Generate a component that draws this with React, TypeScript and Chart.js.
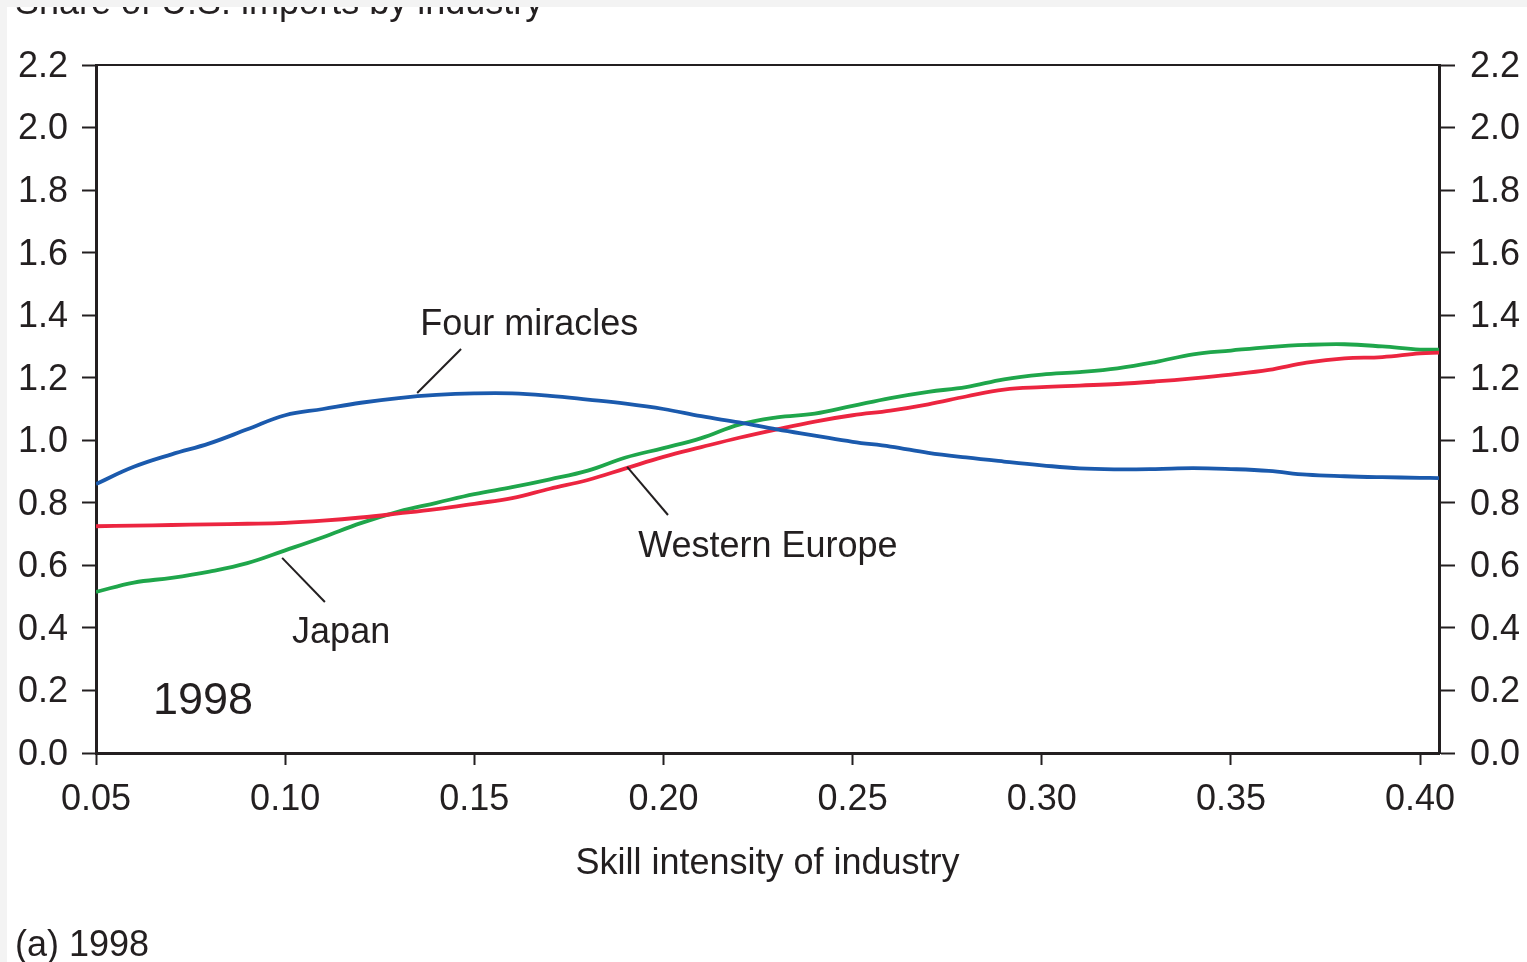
import React, { useEffect, useRef } from "react";
import { Chart, registerables } from "chart.js";

Chart.register(...registerables);

// ---- Data ----
const skill = [
  0.05, 0.06, 0.07, 0.08, 0.09, 0.1, 0.11, 0.12, 0.13, 0.14, 0.15, 0.16, 0.17,
  0.18, 0.19, 0.2, 0.21, 0.22, 0.23, 0.24, 0.25, 0.26, 0.27, 0.28, 0.29, 0.3,
  0.31, 0.32, 0.33, 0.34, 0.35, 0.36, 0.37, 0.38, 0.39, 0.4, 0.405,
];

const fourMiracles = [
  0.86, 0.915, 0.955, 0.99, 1.035, 1.08, 1.1, 1.12, 1.135, 1.145, 1.15, 1.15,
  1.142, 1.13, 1.117, 1.1, 1.077, 1.057, 1.035, 1.015, 0.995, 0.98, 0.96,
  0.945, 0.932, 0.92, 0.91, 0.907, 0.908, 0.911, 0.908, 0.902, 0.89, 0.885,
  0.882, 0.88, 0.879,
];

const westernEurope = [
  0.725, 0.727, 0.729, 0.731, 0.733, 0.736, 0.743, 0.753, 0.766, 0.78, 0.797,
  0.815, 0.845, 0.873, 0.91, 0.947, 0.978, 1.008, 1.035, 1.06, 1.08, 1.095,
  1.115, 1.14, 1.162, 1.17, 1.175, 1.18, 1.188, 1.198, 1.21, 1.225, 1.248,
  1.262, 1.266, 1.278, 1.28,
];

const japan = [
  0.515, 0.545, 0.56, 0.58, 0.607, 0.648, 0.69, 0.735, 0.772, 0.8, 0.828,
  0.85, 0.875, 0.903, 0.945, 0.975, 1.007, 1.05, 1.073, 1.085, 1.11, 1.135,
  1.155, 1.17, 1.195, 1.21, 1.218, 1.23, 1.25, 1.275, 1.287, 1.298, 1.305,
  1.307, 1.3, 1.29, 1.29,
];

const xTicks = [0.05, 0.1, 0.15, 0.2, 0.25, 0.3, 0.35, 0.4];
const yTicks = [0, 0.2, 0.4, 0.6, 0.8, 1.0, 1.2, 1.4, 1.6, 1.8, 2.0, 2.2];

const seriesNames = ["Four miracles", "Western Europe", "Japan"];
const seriesColors = ["#1b5aad", "#ec2540", "#1fa64b"];

const chartTitle = "Share of U.S. imports by industry";
const xTitle = "Skill intensity of industry";
const yearLabel = "1998";
const caption = "(a) 1998";

// Annotation labels in data units: text centre, then leader line from -> to
const annotations = [
  { text: "Four miracles", x: 0.1645, y: 1.375, lx1: 0.1465, ly1: 1.292, lx2: 0.1349, ly2: 1.151 },
  { text: "Western Europe", x: 0.2276, y: 0.665, lx1: 0.2012, ly1: 0.761, lx2: 0.1904, ly2: 0.915 },
  { text: "Japan", x: 0.1148, y: 0.39, lx1: 0.1105, ly1: 0.483, lx2: 0.0992, ly2: 0.624 },
];
const yearPos = { x: 0.0783, y: 0.165 };

const FONT = "'Liberation Sans', Arial, Helvetica, sans-serif";
const INK = "#231f20";
const W = 1527;
const H = 962;

export default function App() {
  const canvasRef = useRef<HTMLCanvasElement | null>(null);

  useEffect(() => {
    const canvas = canvasRef.current;
    if (!canvas) return;

    const bgPlugin = {
      id: "bg",
      beforeDraw(chart: any) {
        const ctx = chart.ctx;
        ctx.save();
        ctx.fillStyle = "#f3f3f3";
        ctx.fillRect(0, 0, chart.width, chart.height);
        ctx.fillStyle = "#ffffff";
        ctx.fillRect(7, 7, chart.width - 7, chart.height - 7);
        ctx.restore();
      },
    };

    const overlayPlugin = {
      id: "overlay",
      afterDraw(chart: any) {
        const ctx = chart.ctx;
        const { left, right, top } = chart.chartArea;
        const xs = chart.scales.x;
        const ys = chart.scales.y;
        ctx.save();
        // top frame line
        ctx.strokeStyle = INK;
        ctx.lineWidth = 2;
        ctx.beginPath();
        ctx.moveTo(left, top);
        ctx.lineTo(right, top);
        ctx.stroke();

        // clipped title (cut at the page edge)
        ctx.save();
        ctx.beginPath();
        ctx.rect(7, 7, chart.width - 7, chart.height - 7);
        ctx.clip();
        ctx.fillStyle = INK;
        ctx.font = `36px ${FONT}`;
        ctx.textAlign = "left";
        ctx.textBaseline = "alphabetic";
        ctx.fillText(chartTitle, 15, 14);
        ctx.restore();

        // annotations
        ctx.fillStyle = INK;
        ctx.strokeStyle = INK;
        ctx.lineWidth = 2;
        ctx.font = `36px ${FONT}`;
        ctx.textAlign = "center";
        ctx.textBaseline = "middle";
        annotations.forEach((a) => {
          ctx.fillText(a.text, xs.getPixelForValue(a.x), ys.getPixelForValue(a.y) + 2);
          ctx.beginPath();
          ctx.moveTo(xs.getPixelForValue(a.lx1), ys.getPixelForValue(a.ly1));
          ctx.lineTo(xs.getPixelForValue(a.lx2), ys.getPixelForValue(a.ly2));
          ctx.stroke();
        });

        ctx.font = `45px ${FONT}`;
        ctx.fillText(yearLabel, xs.getPixelForValue(yearPos.x), ys.getPixelForValue(yearPos.y));

        // caption
        ctx.font = `36px ${FONT}`;
        ctx.textAlign = "left";
        ctx.textBaseline = "alphabetic";
        ctx.fillText(caption, 15, 956);
        ctx.restore();
      },
    };

    const mk = (vals: number[]) => vals.map((v, i) => ({ x: skill[i], y: v }));
    const seriesData = [fourMiracles, westernEurope, japan];

    const chart = new Chart(canvas, {
      type: "line",
      data: {
        datasets: seriesNames.map((name, i) => ({
          label: name,
          data: mk(seriesData[i]),
          borderColor: seriesColors[i],
          backgroundColor: seriesColors[i],
          borderWidth: 3.8,
          pointRadius: 0,
          tension: 0.4,
          fill: false,
          yAxisID: "y",
          xAxisID: "x",
        })),
      },
      options: {
        responsive: false,
        animation: false,
        devicePixelRatio: 1,
        layout: { padding: { top: 65, left: 0, right: 0, bottom: 0 } },
        plugins: {
          legend: { display: false },
          title: { display: false },
          tooltip: { enabled: false },
        },
        scales: {
          x: {
            type: "linear",
            position: "bottom",
            min: 0.05,
            max: 0.405,
            afterBuildTicks: (s: any) => {
              s.ticks = xTicks.map((v) => ({ value: v }));
            },
            afterFit: (s: any) => {
              s.height = 209;
            },
            border: { display: true, color: INK, width: 3 },
            grid: {
              drawOnChartArea: false,
              drawTicks: true,
              tickLength: 12,
              tickWidth: 2,
              tickColor: INK,
            },
            ticks: {
              color: INK,
              padding: 13,
              maxRotation: 0,
              autoSkip: false,
              font: { family: FONT, size: 36 },
              callback: (v: any) => Number(v).toFixed(2),
            },
            title: {
              display: true,
              text: xTitle,
              color: INK,
              font: { family: FONT, size: 36 },
              padding: { top: 0, bottom: 76 },
            },
          },
          y: {
            type: "linear",
            position: "left",
            min: 0,
            max: 2.2,
            afterBuildTicks: (s: any) => {
              s.ticks = yTicks.map((v) => ({ value: v }));
            },
            afterFit: (s: any) => {
              s.width = 96;
            },
            border: { display: true, color: INK, width: 3 },
            grid: {
              drawOnChartArea: false,
              drawTicks: true,
              tickLength: 14,
              tickWidth: 2,
              tickColor: INK,
            },
            ticks: {
              color: INK,
              padding: 14,
              labelOffset: 2,
              autoSkip: false,
              font: { family: FONT, size: 36 },
              callback: (v: any) => Number(v).toFixed(1),
            },
          },
          y2: {
            type: "linear",
            position: "right",
            display: true,
            min: 0,
            max: 2.2,
            afterBuildTicks: (s: any) => {
              s.ticks = yTicks.map((v) => ({ value: v }));
            },
            afterFit: (s: any) => {
              s.width = 88;
            },
            border: { display: true, color: INK, width: 3 },
            grid: {
              drawOnChartArea: false,
              drawTicks: true,
              tickLength: 16,
              tickWidth: 2,
              tickColor: INK,
            },
            ticks: {
              color: INK,
              padding: 15,
              labelOffset: 2,
              autoSkip: false,
              font: { family: FONT, size: 36 },
              callback: (v: any) => Number(v).toFixed(1),
            },
          },
        },
      } as any,
      plugins: [bgPlugin, overlayPlugin],
    });

    return () => {
      chart.destroy();
    };
  }, []);

  return (
    <div style={{ position: "fixed", left: 0, top: 0, width: W, height: H, overflow: "hidden" }}>
      <canvas ref={canvasRef} width={W} height={H} style={{ display: "block", width: W, height: H }} />
    </div>
  );
}
